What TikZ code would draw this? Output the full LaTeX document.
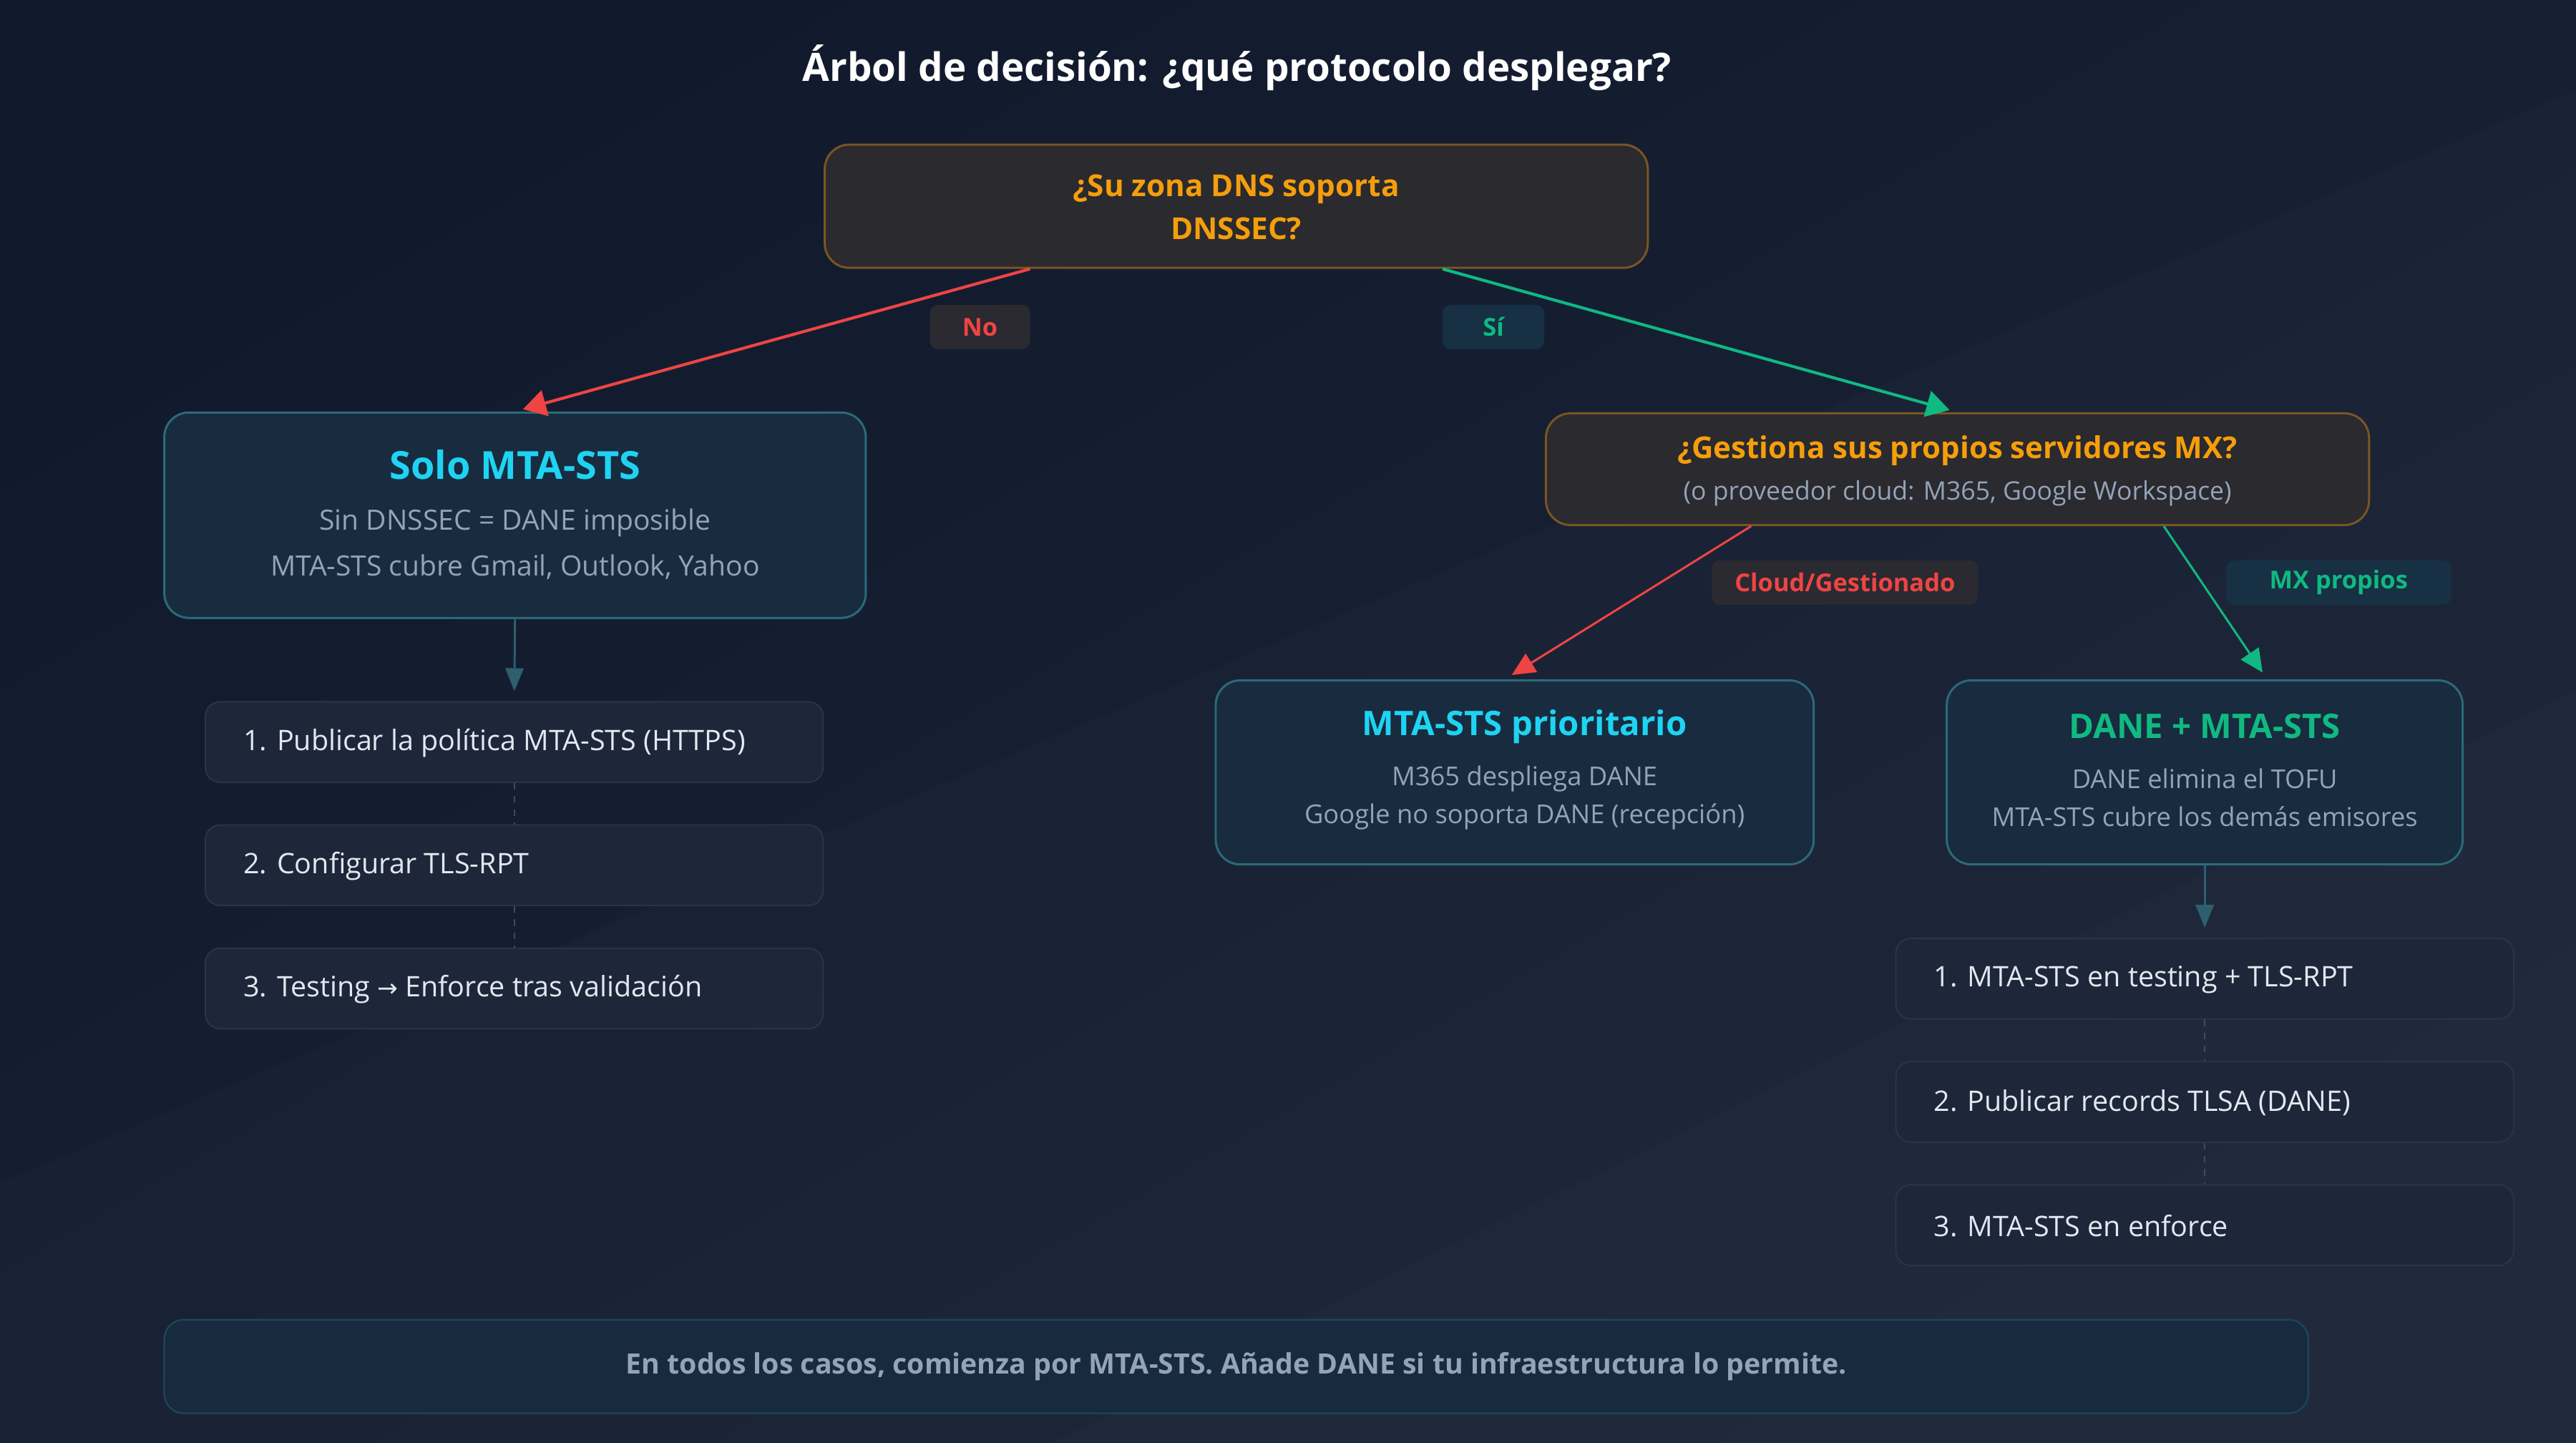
\documentclass[tikz,border=0pt]{standalone}
\usepackage{fontspec}
\setmainfont{Open Sans}
\newfontfamily\symf{DejaVu Sans}
\usetikzlibrary{arrows.meta,calc}
\definecolor{bgA}{HTML}{111A2D}
\definecolor{bgB}{HTML}{1C2538}
\definecolor{qfill}{HTML}{2A2A2F}
\definecolor{qdraw}{HTML}{7A5522}
\definecolor{orng}{HTML}{F59E0B}
\definecolor{rfill}{HTML}{182B3F}
\definecolor{rdraw}{HTML}{2B6A7A}
\definecolor{cyn}{HTML}{1FD3F2}
\definecolor{grn}{HTML}{10B981}
\definecolor{redc}{HTML}{EF4444}
\definecolor{gry}{HTML}{94A3B8}
\definecolor{sfill}{HTML}{1D2739}
\definecolor{sdraw}{HTML}{2A3648}
\definecolor{stext}{HTML}{E2E8F0}
\definecolor{arr}{HTML}{2D5F6E}
\definecolor{nofill}{HTML}{2A2A30}
\definecolor{sifill}{HTML}{173043}
\definecolor{bfill}{HTML}{182A3E}
\definecolor{bdraw}{HTML}{1F4558}
\begin{document}
\begin{tikzpicture}[x=1pt,y=-1pt,
  question/.style={draw=qdraw,fill=qfill,line width=1.3pt,rounded corners=15pt,align=center,inner sep=0pt},
  result/.style={draw=rdraw,fill=rfill,line width=1.3pt,rounded corners=15pt,align=center,inner sep=0pt},
  stepbox/.style={draw=sdraw,fill=sfill,line width=0.8pt,rounded corners=9pt,minimum width=376pt,minimum height=49pt,inner sep=0pt},
  steptext/.style={anchor=west,text=stext,font=\fontsize{17.2}{20}\selectfont,inner sep=0pt},
  lab/.style={rounded corners=5pt,inner sep=0pt,minimum height=27pt,font=\bfseries\fontsize{15}{17}\selectfont},
  mainarrow/.style={line width=1.8pt,-{Triangle[length=14pt,width=16pt]},shorten >=5pt},
  subarrow/.style={line width=1.3pt,-{Triangle[length=14pt,width=13pt]},shorten >=5pt},
  stemarrow/.style={draw=arr,line width=1.3pt,-{Triangle[length=14pt,width=11pt]},shorten >=6pt},
  dashlink/.style={draw=sdraw!80!gry,line width=0.8pt,dash pattern=on 4pt off 4pt}
]
\useasboundingbox (0,0) rectangle (1568,878);
\shade[shading=axis,top color=bgA,bottom color=bgB,shading angle=30] (0,0) rectangle (1568,878);
\fill[white,opacity=0.015] (0,720) -- (1568,55) -- (1568,878) -- (0,878) -- cycle;
\fill[white,opacity=0.01] (640,878) -- (1568,420) -- (1568,878) -- cycle;

% title
\node[text=white,font=\bfseries\fontsize{23.8}{28}\selectfont] (title) at (753,41) {Árbol de decisión: ¿qué protocolo desplegar?};

% root question
\node[question,minimum width=501pt,minimum height=75pt] (root) at (752.5,125.5) {};
\node[text=orng,font=\bfseries\fontsize{18.4}{26}\selectfont,align=center] (rootT) at (752.5,126) {¿Su zona DNS soporta\\DNSSEC?};

% labels level 1
\node[lab,fill=nofill,text=redc,minimum width=61pt] (no) at (596.5,199) {No};
\node[lab,fill=sifill,text=grn,minimum width=62pt] (si) at (909,199) {Sí};

% Solo MTA-STS
\node[result,minimum width=427pt,minimum height=125pt] (solo) at (313.5,313.5) {};
\node[text=cyn,font=\bfseries\fontsize{23.5}{26}\selectfont] (soloT) at (313.5,283) {Solo MTA-STS};
\node[text=gry,font=\fontsize{17}{20}\selectfont] (soloA) at (313.5,318) {Sin DNSSEC = DANE imposible};
\node[text=gry,font=\fontsize{17}{20}\selectfont] (soloB) at (313.5,345) {MTA-STS cubre Gmail, Outlook, Yahoo};

% left steps
\node[stepbox] (l1) at (313,451.5) {};
\node[stepbox] (l2) at (313,526.5) {};
\node[stepbox] (l3) at (313,601.5) {};
\node[steptext] (l1t) at (148,452) {1. Publicar la política MTA-STS (HTTPS)};
\node[steptext] (l2t) at (148,527) {2. Configurar TLS-RPT};
\node[steptext] (l3t) at (148,602) {3. Testing {\symf\fontsize{15}{18}\selectfont →} Enforce tras validación};

% Gestiona question
\node[question,minimum width=501pt,minimum height=68pt] (gest) at (1191.5,285.5) {};
\node[text=orng,font=\bfseries\fontsize{18.3}{21}\selectfont] (gestT) at (1191.5,274) {¿Gestiona sus propios servidores MX?};
\node[text=gry,font=\fontsize{15.5}{18}\selectfont] (gestS) at (1191.5,300) {(o proveedor cloud: M365, Google Workspace)};

% labels level 2
\node[lab,fill=nofill,text=redc,minimum width=162pt] (cloud) at (1123,354.5) {Cloud/Gestionado};
\node[lab,fill=sifill,text=grn,minimum width=137pt] (mx) at (1423.5,354.5) {MX propios};

% MTA-STS prioritario
\node[result,minimum width=364pt,minimum height=112pt] (prio) at (922,470) {};
\node[text=cyn,font=\bfseries\fontsize{20.6}{24}\selectfont] (prioT) at (928,442) {MTA-STS prioritario};
\node[text=gry,font=\fontsize{15.8}{18}\selectfont] (prioA) at (928,474) {M365 despliega DANE};
\node[text=gry,font=\fontsize{15.8}{18}\selectfont] (prioB) at (928,497) {Google no soporta DANE (recepción)};

% DANE + MTA-STS
\node[result,minimum width=314pt,minimum height=112pt] (dane) at (1342,470) {};
\node[text=grn,font=\bfseries\fontsize{20.6}{24}\selectfont] (daneT) at (1342,442) {DANE + MTA-STS};
\node[text=gry,font=\fontsize{15.8}{18}\selectfont] (daneA) at (1342,474) {DANE elimina el TOFU};
\node[text=gry,font=\fontsize{15.8}{18}\selectfont] (daneB) at (1342,497) {MTA-STS cubre los demás emisores};

% right steps
\node[stepbox] (r1) at (1342,595.5) {};
\node[stepbox] (r2) at (1342,670.5) {};
\node[stepbox] (r3) at (1342,745.5) {};
\node[steptext] (r1t) at (1177,596) {1. MTA-STS en testing + TLS-RPT};
\node[steptext] (r2t) at (1177,671) {2. Publicar records TLSA (DANE)};
\node[steptext] (r3t) at (1177,746) {3. MTA-STS en enforce};

% bottom note
\node[draw=bdraw,fill=bfill,line width=1pt,rounded corners=12pt,minimum width=1305pt,minimum height=57pt,text=gry,font=\bfseries\fontsize{17.1}{20}\selectfont] (note) at (752.5,831.5) {En todos los casos, comienza por MTA-STS. Añade DANE si tu infraestructura lo permite.};

% connectors
\draw[mainarrow,draw=redc,fill=redc] ($(root.south west)!0.25!(root.south east)$) -- (solo.north);
\draw[mainarrow,draw=grn,fill=grn] ($(root.south west)!0.75!(root.south east)$) -- (gest.north);
\draw[subarrow,draw=redc,fill=redc] ($(gest.south west)!0.25!(gest.south east)$) -- ($(prio.north)+(-6,0)$);
\draw[subarrow,draw=grn,fill=grn] ($(gest.south west)!0.75!(gest.south east)$) -- ($(dane.north)+(38,0)$);
\draw[stemarrow,fill=arr] (solo.south) -- (l1.north);
\draw[stemarrow,fill=arr] (dane.south) -- (r1.north);
\draw[dashlink] (l1.south) -- (l2.north);
\draw[dashlink] (l2.south) -- (l3.north);
\draw[dashlink] (r1.south) -- (r2.north);
\draw[dashlink] (r2.south) -- (r3.north);
\end{tikzpicture}
\end{document}
